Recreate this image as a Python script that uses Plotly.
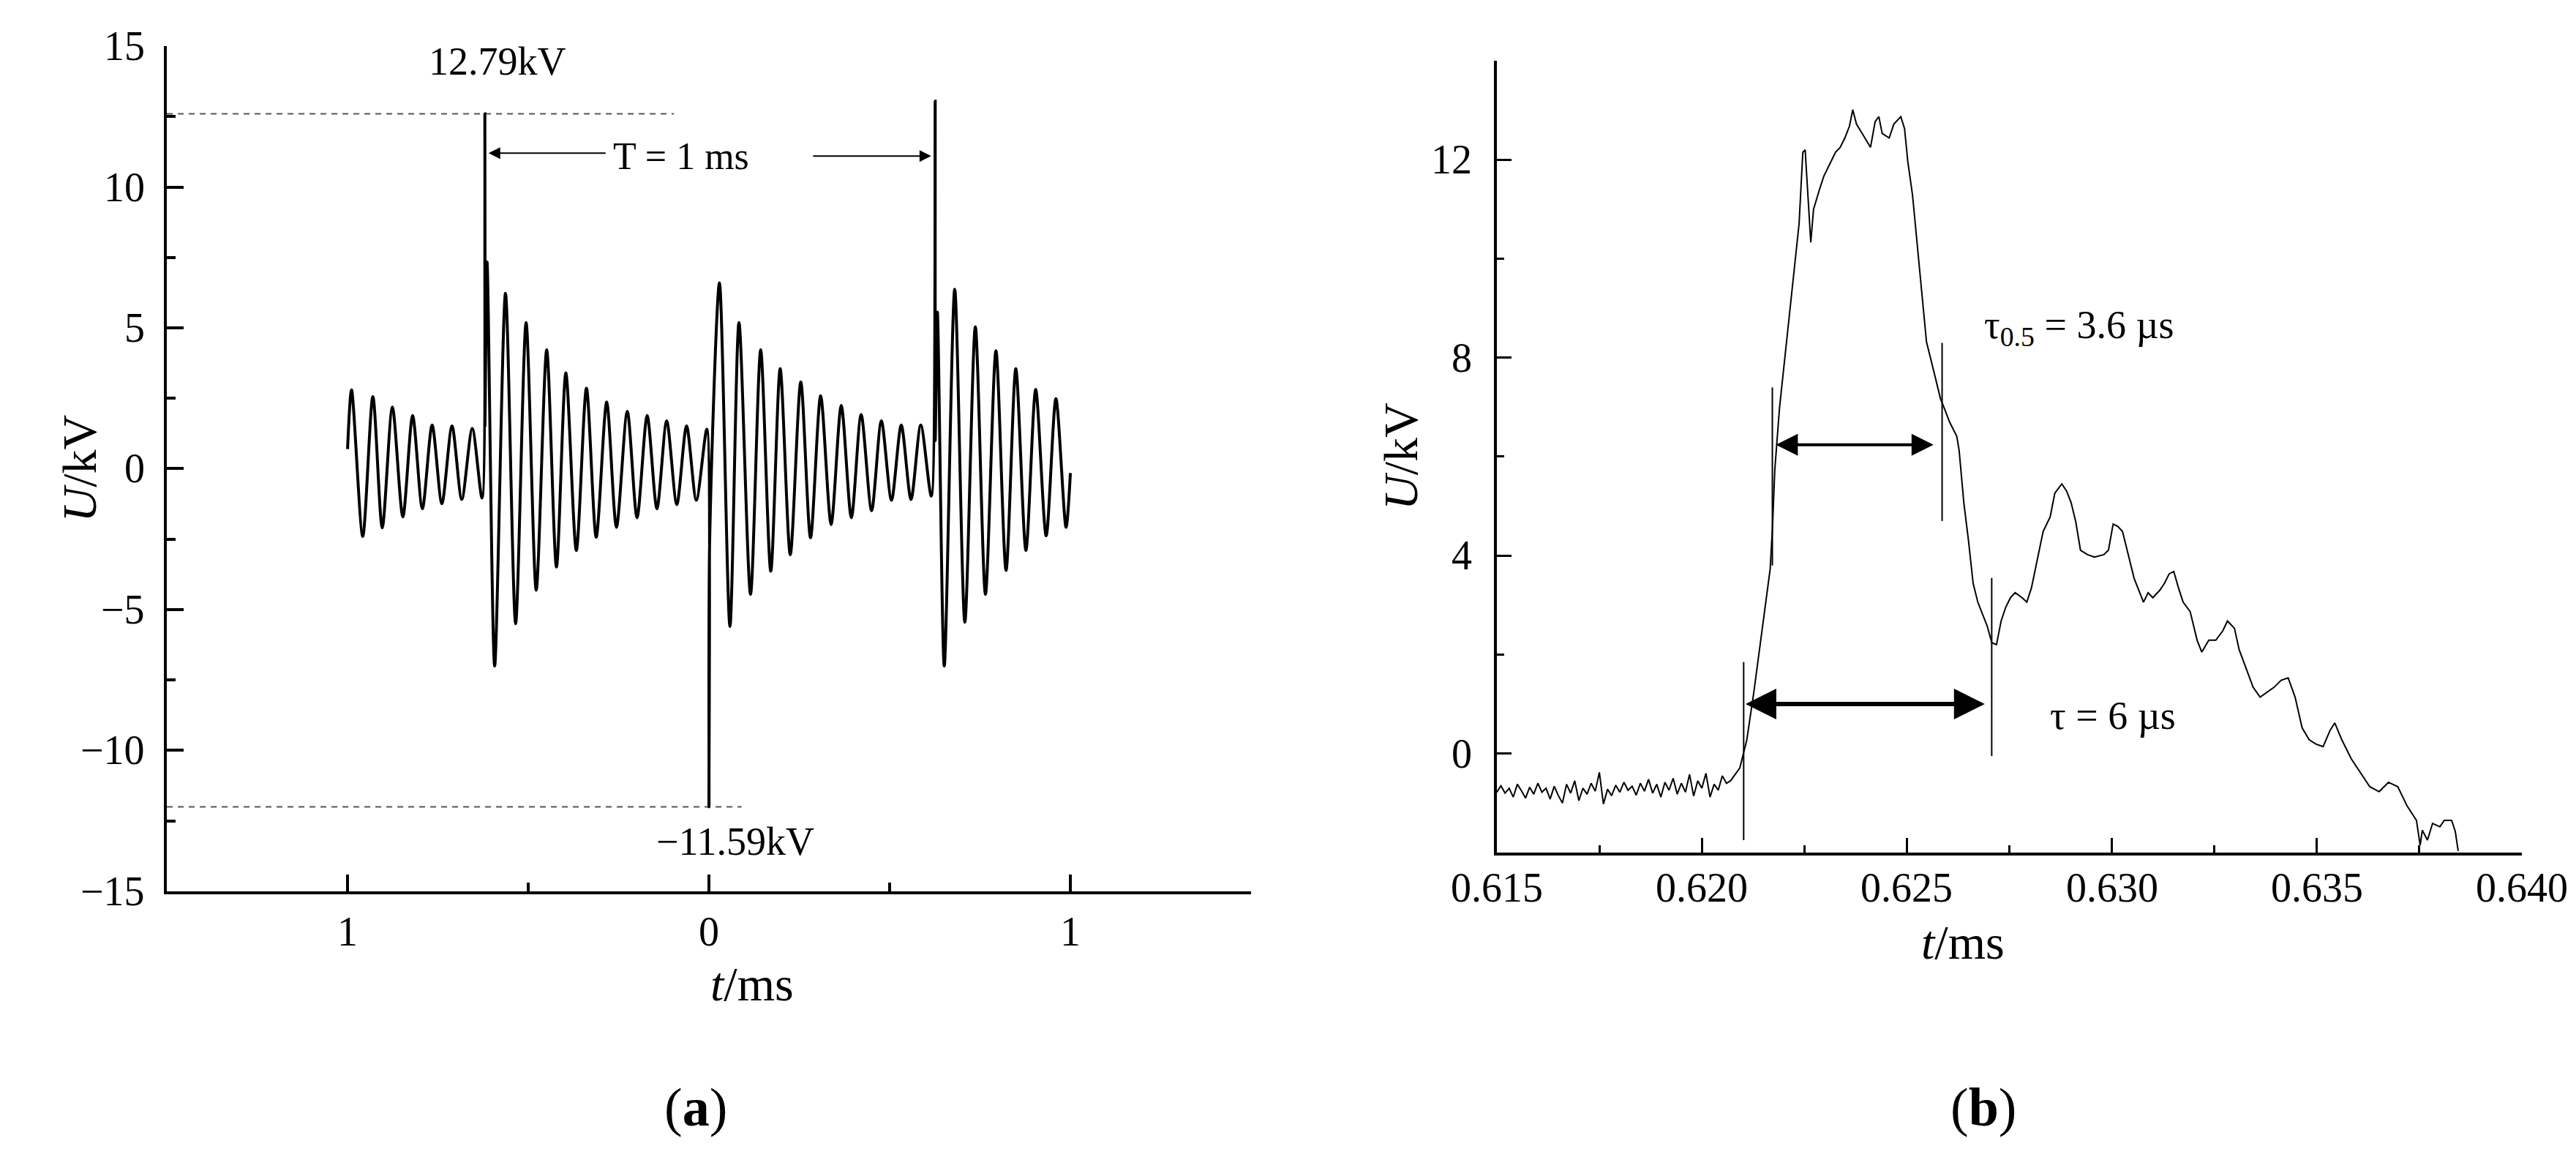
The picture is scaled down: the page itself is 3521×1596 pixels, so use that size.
import plotly.graph_objects as go

# ---------------- Panel (a) data ----------------
t_a = [-1.000, -0.989, -0.958, -0.930, -0.904, -0.876, -0.847, -0.820, -0.793, -0.766,
       -0.739, -0.711, -0.684, -0.655, -0.628, -0.620, -0.620, -0.614, -0.593, -0.563,
       -0.535, -0.506, -0.478, -0.449, -0.422, -0.396, -0.367, -0.339, -0.312, -0.283,
       -0.256, -0.226, -0.199, -0.171, -0.144, -0.117, -0.089, -0.062, -0.035, -0.006,
       0.000, 0.002, 0.029, 0.058, 0.083, 0.115, 0.143, 0.171, 0.197, 0.225,
       0.254, 0.281, 0.309, 0.338, 0.366, 0.394, 0.421, 0.450, 0.477, 0.505,
       0.532, 0.559, 0.586, 0.615, 0.626, 0.626, 0.632, 0.651, 0.680, 0.708,
       0.737, 0.765, 0.794, 0.822, 0.849, 0.877, 0.904, 0.933, 0.960, 0.988, 1.000]
u_a = [0.7, 2.8, -2.4, 2.56, -2.1, 2.19, -1.71, 1.89, -1.42, 1.55,
       -1.24, 1.52, -1.09, 1.43, -1.04, 12.6, 1.5, 7.34, -7.0, 6.23,
       -5.5, 5.19, -4.31, 4.22, -3.49, 3.40, -2.90, 2.86, -2.43, 2.37,
       -2.08, 2.04, -1.74, 1.89, -1.42, 1.70, -1.27, 1.52, -1.12, 1.40,
       -12.0, -2.5, 6.6, -5.6, 5.19, -4.46, 4.22, -3.64, 3.55, -3.05,
       3.08, -2.45, 2.59, -1.98, 2.25, -1.74, 1.92, -1.49, 1.70, -1.12,
       1.55, -1.09, 1.55, -0.97, 13.05, 1.0, 5.56, -7.0, 6.37, -5.45,
       5.04, -4.46, 4.19, -3.61, 3.55, -2.90, 2.81, -2.38, 2.49, -2.08, -0.15]

a_xticks = [-1, 0, 1]
a_xticktext = ["1", "0", "1"]
a_yticks = [15, 10, 5, 0, -5, -10, -15]
a_yticktext = ["15", "10", "5", "0", "\u22125", "\u221210", "\u221215"]
a_peak_levels = [12.6, -12.0]          # dashed reference levels as drawn
a_peak_dash_end = [-0.097, 0.09]        # where dashed lines end (t/ms)
a_peak_labels = ["12.79kV", "\u221211.59kV"]
a_period_label = "T = 1 ms"
a_period_arrow_left = [-0.283, -0.610]  # from, to
a_period_arrow_right = [0.285, 0.615]

# ---------------- Panel (b) data ----------------
t_b = [0.6150, 0.6151, 0.6152, 0.6153, 0.6154, 0.6155, 0.6156, 0.6157, 0.6158, 0.6159,
       0.6160, 0.6161, 0.6162, 0.6163, 0.6164, 0.6165, 0.6166, 0.6167, 0.6168, 0.6169,
       0.6170, 0.6171, 0.6172, 0.6173, 0.6174, 0.6175, 0.6176, 0.6177, 0.6178, 0.6179,
       0.6180, 0.6181, 0.6182, 0.6183, 0.6184, 0.6185, 0.6186, 0.6187, 0.6188, 0.6189,
       0.6190, 0.6191, 0.6192, 0.6193, 0.6194, 0.6195, 0.6196, 0.6197, 0.6198, 0.6199,
       0.6200, 0.6201, 0.6202, 0.6203, 0.6204, 0.6205, 0.6206,
       0.620700, 0.620927, 0.621098, 0.621268, 0.621496, 0.621667, 0.621724, 0.621780,
       0.621894, 0.622065, 0.622236, 0.622372, 0.622463, 0.622520, 0.622657, 0.622725,
       0.622862, 0.622976, 0.623089, 0.623260, 0.623374, 0.623488, 0.623601, 0.623681,
       0.623772, 0.623943, 0.624114, 0.624227, 0.624318, 0.624398, 0.624569, 0.624683,
       0.624853, 0.624944, 0.625024, 0.625138, 0.625252, 0.625366, 0.625479, 0.625650,
       0.625821, 0.625912, 0.626048, 0.626219, 0.626276, 0.626390, 0.626504, 0.626617,
       0.626731, 0.626845, 0.626959, 0.627073, 0.627186, 0.627300, 0.627414, 0.627528,
       0.627642, 0.627812, 0.627926, 0.628040, 0.628154, 0.628325, 0.628495, 0.628609,
       0.628780, 0.628894, 0.629007, 0.629121, 0.629235, 0.629406, 0.629576, 0.629804,
       0.629918, 0.630032, 0.630146, 0.630259, 0.630373, 0.630544, 0.630658, 0.630772,
       0.630885, 0.630999, 0.631170, 0.631284, 0.631397, 0.631511, 0.631625, 0.631739,
       0.631910, 0.632080, 0.632194, 0.632365, 0.632535, 0.632706, 0.632820, 0.632991,
       0.633105, 0.633275, 0.633446, 0.633617, 0.633787, 0.633958, 0.634129, 0.634300,
       0.634470, 0.634641, 0.634812, 0.634982, 0.635153, 0.635324, 0.635438, 0.635608,
       0.635836, 0.636064, 0.636291, 0.636519, 0.636747, 0.636975, 0.637202,
       0.637430, 0.637520, 0.637573, 0.637698, 0.637823, 0.638001, 0.638108, 0.638287,
       0.638376, 0.638448]
u_b = [-0.78, -0.65, -0.80, -0.70, -0.88, -0.62, -0.75, -0.90, -0.68, -0.82,
       -0.60, -0.78, -0.70, -0.92, -0.66, -0.85, -1.00, -0.62, -0.80, -0.55,
       -0.95, -0.70, -0.82, -0.60, -0.76, -0.38, -1.02, -0.72, -0.85, -0.64,
       -0.78, -0.58, -0.74, -0.66, -0.84, -0.60, -0.76, -0.52, -0.80, -0.62,
       -0.88, -0.58, -0.74, -0.50, -0.82, -0.60, -0.78, -0.42, -0.86, -0.55,
       -0.70, -0.40, -0.88, -0.62, -0.74, -0.45, -0.60,
       -0.55, -0.29, 0.28, 1.24, 2.68, 3.73, 4.59, 5.74,
       6.98, 8.32, 9.66, 10.71, 12.15, 12.20, 10.33, 11.00,
       11.38, 11.67, 11.86, 12.15, 12.25, 12.44, 12.68, 13.01,
       12.72, 12.48, 12.25, 12.77, 12.87, 12.53, 12.44, 12.72,
       12.87, 12.63, 11.96, 11.29, 10.33, 9.37, 8.32, 7.75,
       7.17, 6.98, 6.69, 6.41, 6.12, 5.07, 4.30, 3.44,
       3.06, 2.82, 2.58, 2.24, 2.20, 2.68, 2.96, 3.15,
       3.25, 3.15, 3.06, 3.35, 3.82, 4.49, 4.78, 5.26,
       5.45, 5.31, 5.07, 4.68, 4.11, 4.02, 3.97, 4.02,
       4.11, 4.64, 4.59, 4.49, 4.11, 3.54, 3.30, 3.06,
       3.25, 3.15, 3.30, 3.44, 3.63, 3.68, 3.35, 3.06,
       2.87, 2.29, 2.05, 2.29, 2.29, 2.48, 2.68, 2.53,
       2.10, 1.72, 1.34, 1.14, 1.24, 1.34, 1.48, 1.53,
       1.14, 0.52, 0.28, 0.19, 0.14, 0.47, 0.62, 0.28,
       -0.10, -0.39, -0.67, -0.77, -0.58, -0.67, -1.06,
       -1.35, -1.85, -1.55, -1.75, -1.41, -1.48, -1.35, -1.35,
       -1.57, -1.97]

b_xticks = [0.615, 0.620, 0.625, 0.630, 0.635, 0.640]
b_xticktext = ["0.615", "0.620", "0.625", "0.630", "0.635", "0.640"]
b_yticks = [0, 4, 8, 12]
b_yticktext = ["0", "4", "8", "12"]
# marker lines (t, low, high)
b_marker_t = [0.62102, 0.62172, 0.62586, 0.62707]
b_marker_lo = [-1.75, 3.80, 4.70, -0.05]
b_marker_hi = [1.85, 7.40, 8.30, 3.55]
# double arrows: (t_start, t_end, level)
b_arrow_half = [0.62178, 0.62565, 6.24]
b_arrow_full = [0.62104, 0.62690, 1.00]
b_label_half = "\u03c4<sub>0.5</sub> = 3.6 \u00b5s"
b_label_full = "\u03c4 = 6 \u00b5s"

FONT = "Liberation Serif"
BLACK = "#000000"
W, H = 3521, 1596

fig = go.Figure()

# panel (a) dashed reference lines
for lvl, tend in zip(a_peak_levels, a_peak_dash_end):
    fig.add_trace(go.Scatter(x=[-1.5, tend], y=[lvl, lvl], mode="lines",
                             line=dict(color="#555555", width=2, dash="8px,7px"),
                             xaxis="x", yaxis="y", showlegend=False, hoverinfo="skip"))
# panel (a) trace
fig.add_trace(go.Scatter(x=t_a, y=u_a, mode="lines",
                         line=dict(color=BLACK, width=4, shape="spline", smoothing=0.8),
                         xaxis="x", yaxis="y", showlegend=False))

# panel (b) trace
fig.add_trace(go.Scatter(x=t_b, y=u_b, mode="lines", line=dict(color=BLACK, width=2),
                         xaxis="x2", yaxis="y2", showlegend=False))
for tm, lo, hi in zip(b_marker_t, b_marker_lo, b_marker_hi):
    fig.add_trace(go.Scatter(x=[tm, tm], y=[lo, hi], mode="lines",
                             line=dict(color=BLACK, width=2),
                             xaxis="x2", yaxis="y2", showlegend=False, hoverinfo="skip"))

axis_common = dict(showline=True, linecolor=BLACK, linewidth=4, ticks="inside",
                   tickwidth=4, tickcolor=BLACK, showgrid=False, zeroline=False,
                   showticklabels=False, mirror=False)

fig.update_layout(
    width=W, height=H,
    margin=dict(l=0, r=0, t=0, b=0),
    paper_bgcolor="white", plot_bgcolor="white",
    xaxis=dict(domain=[0.0625, 0.4834], range=[-1.5, 1.5], anchor="y",
               tickmode="array", tickvals=a_xticks, ticklen=23,
               minor=dict(tickmode="array", tickvals=[-1.5, -0.5, 0.5, 1.5], ticklen=12,
                          tickwidth=4, ticks="inside", tickcolor=BLACK),
               **axis_common),
    yaxis=dict(domain=[0.2419, 0.9655], range=[-15, 15], anchor="x",
               tickmode="array", tickvals=a_yticks, ticklen=23,
               minor=dict(dtick=2.5, tick0=0, ticklen=12, tickwidth=4, ticks="inside",
                          tickcolor=BLACK),
               **axis_common),
    xaxis2=dict(domain=[0.5788, 0.9767], range=[0.615, 0.640], anchor="y2",
                tickmode="array", tickvals=b_xticks, ticklen=20,
                minor=dict(dtick=0.0025, tick0=0.615, ticklen=10, tickwidth=3,
                           ticks="inside", tickcolor=BLACK),
                **{**axis_common, "linewidth": 3.5, "tickwidth": 3}),
    yaxis2=dict(domain=[0.2751, 0.953], range=[-2, 14], anchor="x2",
                tickmode="array", tickvals=b_yticks, ticklen=20,
                minor=dict(dtick=2, tick0=0, ticklen=10, tickwidth=3, ticks="inside",
                           tickcolor=BLACK),
                **{**axis_common, "linewidth": 3.5, "tickwidth": 3}),
)

ann = []
tkf = dict(family=FONT, size=56, color=BLACK)
# tick labels (placed explicitly so their distance from the axes matches)
for v, s in zip(a_xticks, a_xticktext):
    ann.append(dict(x=v, y=1 - 1265 / H, xref="x", yref="paper", text=s,
                    showarrow=False, font=tkf, xanchor="center", yanchor="middle"))
for v, s in zip(a_yticks, a_yticktext):
    ann.append(dict(x=192 / W, y=v, xref="paper", yref="y", text=s,
                    showarrow=False, font=tkf, xanchor="right", yanchor="middle"))
for v, s in zip(b_xticks, b_xticktext):
    ann.append(dict(x=v, y=1 - 1205 / H, xref="x2", yref="paper", text=s,
                    showarrow=False, font=tkf, xanchor="center", yanchor="middle"))
for v, s in zip(b_yticks, b_yticktext):
    ann.append(dict(x=2006 / W, y=v, xref="paper", yref="y2", text=s,
                    showarrow=False, font=tkf, xanchor="right", yanchor="middle"))

tf = dict(family=FONT, size=54, color=BLACK)
# panel (a) labels
ann.append(dict(x=-0.585, y=14.45, xref="x", yref="y", text=a_peak_labels[0],
                showarrow=False, font=tf))
ann.append(dict(x=0.073, y=-13.23, xref="x", yref="y", text=a_peak_labels[1],
                showarrow=False, font=tf))
ann.append(dict(x=-0.077, y=11.1, xref="x", yref="y", text=a_period_label,
                showarrow=False, font=dict(family=FONT, size=52, color=BLACK)))
ann.append(dict(x=a_period_arrow_left[1], y=11.2, ax=a_period_arrow_left[0], ay=11.2,
                xref="x", yref="y", axref="x", ayref="y", text="", showarrow=True,
                arrowhead=2, arrowwidth=2, arrowsize=1.6, arrowcolor=BLACK))
ann.append(dict(x=a_period_arrow_right[1], y=11.1, ax=a_period_arrow_right[0], ay=11.1,
                xref="x", yref="y", axref="x", ayref="y", text="", showarrow=True,
                arrowhead=2, arrowwidth=2, arrowsize=1.6, arrowcolor=BLACK))
# panel (b) arrows and labels
ann.append(dict(x=b_arrow_half[1], y=b_arrow_half[2], ax=b_arrow_half[0], ay=b_arrow_half[2],
                xref="x2", yref="y2", axref="x2", ayref="y2", text="", showarrow=True,
                arrowside="end+start", arrowhead=2, startarrowhead=2,
                arrowwidth=4, arrowsize=1.5, startarrowsize=1.5, arrowcolor=BLACK))
ann.append(dict(x=b_arrow_full[1], y=b_arrow_full[2], ax=b_arrow_full[0], ay=b_arrow_full[2],
                xref="x2", yref="y2", axref="x2", ayref="y2", text="", showarrow=True,
                arrowside="end+start", arrowhead=2, startarrowhead=2,
                arrowwidth=6, arrowsize=1.4, startarrowsize=1.4, arrowcolor=BLACK))
ann.append(dict(x=0.62920, y=8.61, xref="x2", yref="y2", text=b_label_half,
                showarrow=False, font=dict(family=FONT, size=54, color=BLACK)))
ann.append(dict(x=0.63003, y=0.76, xref="x2", yref="y2", text=b_label_full,
                showarrow=False, font=dict(family=FONT, size=54, color=BLACK)))
# axis titles
atf = dict(family=FONT, size=66, color=BLACK)
ann.append(dict(x=61 / W, y=1 - 632 / H, xref="paper", yref="paper",
                text="<i>U</i>/kV", textangle=-90, showarrow=False, font=atf))
ann.append(dict(x=1906 / W, y=1 - 616 / H, xref="paper", yref="paper",
                text="<i>U</i>/kV", textangle=-90, showarrow=False, font=atf))
ann.append(dict(x=961 / W, y=1 - 1375 / H, xref="paper", yref="paper",
                text="<i>t</i>/ms", showarrow=False, font=atf))
ann.append(dict(x=2734 / W, y=1 - 1318 / H, xref="paper", yref="paper",
                text="<i>t</i>/ms", showarrow=False, font=atf))
# panel captions
cf = dict(family=FONT, size=74, color=BLACK)
ann.append(dict(x=898 / W, y=1 - 1548 / H, xref="paper", yref="paper",
                text="(<b>a</b>)", showarrow=False, font=cf))
ann.append(dict(x=2750 / W, y=1 - 1548 / H, xref="paper", yref="paper",
                text="(<b>b</b>)", showarrow=False, font=cf))

fig.update_layout(annotations=ann)
fig.write_html("out.html")
